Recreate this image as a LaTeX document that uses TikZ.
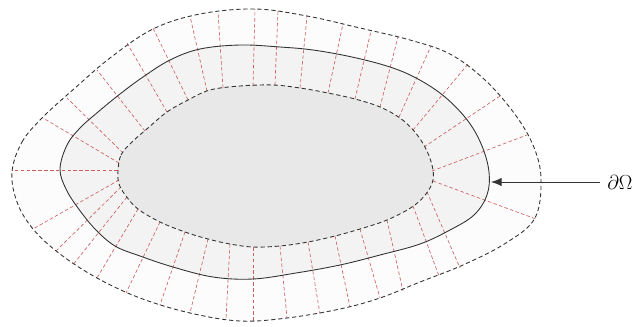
\documentclass[tikz,border=0pt]{standalone}
\usepackage{amsmath}
\usepackage{amssymb}
\usetikzlibrary{arrows.meta,calc,positioning}
\definecolor{BandRed}{RGB}{205,95,95}
\definecolor{InnerGray}{RGB}{232,232,232}
\definecolor{MidGray}{RGB}{243,243,243}
\definecolor{OuterGray}{RGB}{252,252,252}

\tikzset{
  bdash/.style={black!80, line width=0.75pt, dash pattern=on 3.6pt off 2.4pt},
  ray/.style={BandRed, line width=0.55pt, dash pattern=on 3pt off 2pt},
  bnd/.style={black!80, line width=0.75pt}
}

\begin{document}
\begin{tikzpicture}[x=0.03cm, y=-0.03cm, font=\LARGE]
  % Canvas in pixel units
  \useasboundingbox (0,0) rectangle (633,326);

  % Outer, boundary and inner curves
  \def\outerpath{plot[smooth cycle, tension=0.6] coordinates {
    (12,172) (22,142) (43,117) (75,88) (110,58) (153,29) (200,14) (255,9)
    (307,16) (360,28) (410,40) (450,54) (485,80) (514,113) (533,145)
    (541,178) (535,218) (506,243) (463,265) (420,282) (380,298) (340,309)
    (287,318) (240,321) (190,313) (140,298) (97,278) (60,254) (33,229)
    (17,202)}}
  \def\bndpath{plot[smooth cycle, tension=0.6] coordinates {
    (60,169) (67,145) (80,128) (98,112) (120,94) (143,77) (170,60) (200,49)
    (240,45) (280,47) (313,50) (352,57) (390,67) (418,79) (445,97)
    (468,121) (482,146) (489,172) (487,195) (474,215) (450,230) (420,244)
    (380,255) (340,265) (296,273) (253,279) (213,277) (173,267) (140,256)
    (115,246) (95,229) (78,208) (66,189)}}
  \def\innerpath{plot[smooth cycle, tension=0.6] coordinates {
    (118,171) (121,155) (132,142) (148,128) (167,112) (188,100) (210,90)
    (240,86) (273,85) (300,88) (328,93) (355,99) (380,107) (400,118)
    (414,131) (425,147) (432,165) (433,180) (426,194) (412,207) (387,220)
    (360,229) (335,236) (308,242) (280,246) (253,247) (230,244) (208,239)
    (185,232) (160,222) (138,209) (126,196) (119,184)}}

  % Shaded layers
  \fill[OuterGray] \outerpath;
  \fill[MidGray] \bndpath;
  \fill[InnerGray] \innerpath;

  % Radial grid lines across the band
  \foreach \ix/\iy/\ox/\oy in {
    118/170/12/170, 119/163/43/118, 123/153/67/98, 145/131/97/70,
    167/112/127/43, 188/100/153/28, 207/91/190/16, 223/88/218/12,
    253/86/255/9, 275/85/278/10, 300/88/307/16, 328/93/343/24,
    355/99/371/31, 380/107/398/37, 399/117/431/46, 413/130/468/64,
    424/147/500/96, 432/171/527/135, 433/181/536/219, 427/192/460/268,
    413/206/439/276, 387/220/403/291, 360/229/380/298, 335/236/350/307,
    308/242/320/314, 280/246/287/318, 253/247/253/321, 230/244/226/319,
    208/239/190/313, 185/232/160/305, 160/222/126/293, 138/209/97/278,
    127/197/72/266, 121/187/55/252, 119/180/33/229}
    \draw[ray] (\ix,\iy) -- (\ox,\oy);

  % Curves on top
  \draw[bdash] \outerpath;
  \draw[bnd] \bndpath;
  \draw[bdash] \innerpath;

  % Label of the boundary
  \coordinate (tip) at (491,182);
  \node[anchor=west, inner sep=1pt] (dOmega) at (606,182) {$\partial\Omega$};
  \draw[bnd, -{Latex[length=9pt, width=7pt]}] (dOmega.west) ++(-6,0) -- (tip);
\end{tikzpicture}
\end{document}
